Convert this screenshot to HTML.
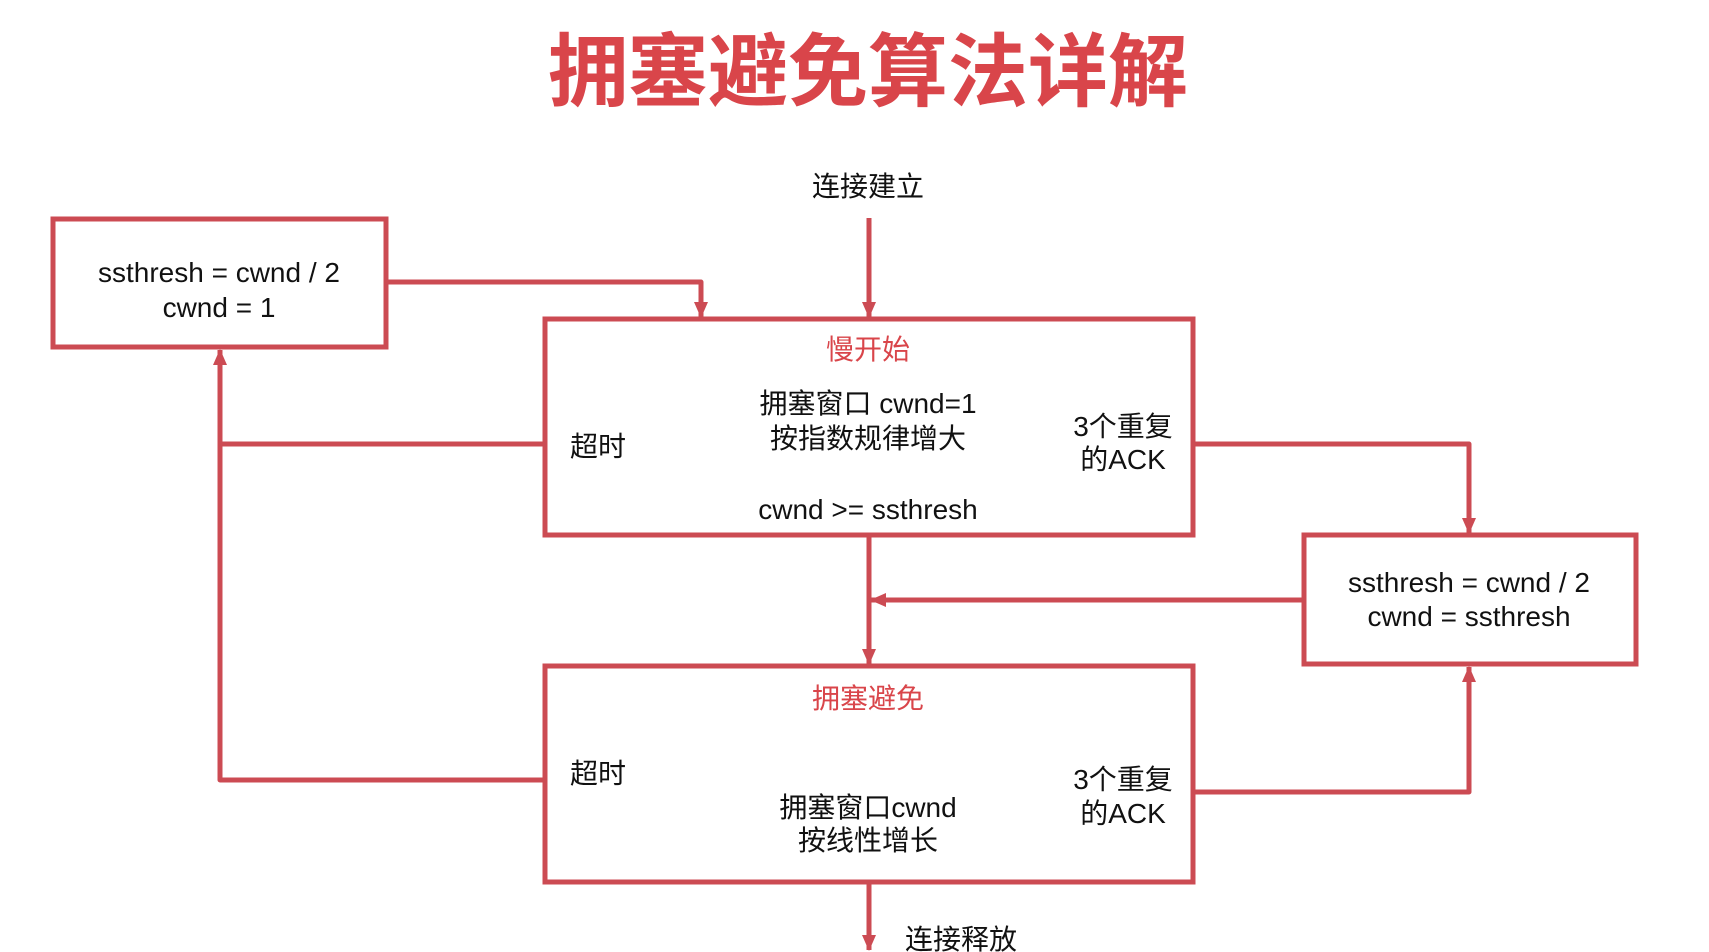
<!DOCTYPE html>
<html><head><meta charset="utf-8"><style>
html,body{margin:0;padding:0;background:#fff;width:1709px;height:952px;overflow:hidden}
svg{display:block}
text{font-family:"Liberation Sans","Noto Sans CJK SC",sans-serif;fill:#111;font-size:28px}
</style></head><body>
<svg width="1709" height="952" viewBox="0 0 1709 952" xmlns="http://www.w3.org/2000/svg">
<defs>
<marker id="b" markerWidth="16" markerHeight="14" refX="15" refY="7" orient="auto" markerUnits="userSpaceOnUse">
<path d="M0,0 L16,7 L0,14 z" fill="#cc4b53"/>
</marker>
</defs>
<text x="868" y="100" text-anchor="middle" style="font-size:80px;font-weight:bold;fill:#d9454a;font-family:'Noto Sans CJK SC',sans-serif">拥塞避免算法详解</text>

<g fill="none" stroke="#cc4b53" stroke-width="5">
<rect x="53" y="219" width="333" height="128"/>
<rect x="545" y="319" width="648" height="216"/>
<rect x="1304" y="535" width="332" height="129"/>
<rect x="545" y="666" width="648" height="216"/>
</g>
<g fill="none" stroke="#cc4b53" stroke-width="5" stroke-linejoin="round">
<path d="M869,218 V317" marker-end="url(#b)"/>
<path d="M386,282 H701 V317" marker-end="url(#b)"/>
<path d="M545,444 H220"/>
<path d="M545,780 H220 V350" marker-end="url(#b)"/>
<path d="M1193,444 H1469 V533" marker-end="url(#b)"/>
<path d="M1193,792 H1469 V667" marker-end="url(#b)"/>
<path d="M1304,600 H871" marker-end="url(#b)"/>
<path d="M869,536 V664" marker-end="url(#b)"/>
<path d="M869,882 V950" marker-end="url(#b)"/>
</g>

<text x="868" y="196" text-anchor="middle">连接建立</text>
<text x="219" y="282" text-anchor="middle">ssthresh = cwnd / 2</text>
<text x="219" y="317" text-anchor="middle">cwnd = 1</text>

<text x="868" y="359" text-anchor="middle" style="fill:#d9454a">慢开始</text>
<text x="868" y="413" text-anchor="middle">拥塞窗口 cwnd=1</text>
<text x="868" y="448" text-anchor="middle">按指数规律增大</text>
<text x="868" y="519" text-anchor="middle">cwnd &gt;= ssthresh</text>
<text x="598" y="456" text-anchor="middle">超时</text>
<text x="1123" y="436" text-anchor="middle">3个重复</text>
<text x="1123" y="469" text-anchor="middle">的ACK</text>

<text x="1469" y="592" text-anchor="middle">ssthresh = cwnd / 2</text>
<text x="1469" y="626" text-anchor="middle">cwnd = ssthresh</text>

<text x="868" y="708" text-anchor="middle" style="fill:#d9454a">拥塞避免</text>
<text x="598" y="783" text-anchor="middle">超时</text>
<text x="868" y="817" text-anchor="middle">拥塞窗口cwnd</text>
<text x="868" y="850" text-anchor="middle">按线性增长</text>
<text x="1123" y="789" text-anchor="middle">3个重复</text>
<text x="1123" y="823" text-anchor="middle">的ACK</text>

<text x="905" y="949">连接释放</text>
</svg>
</body></html>
